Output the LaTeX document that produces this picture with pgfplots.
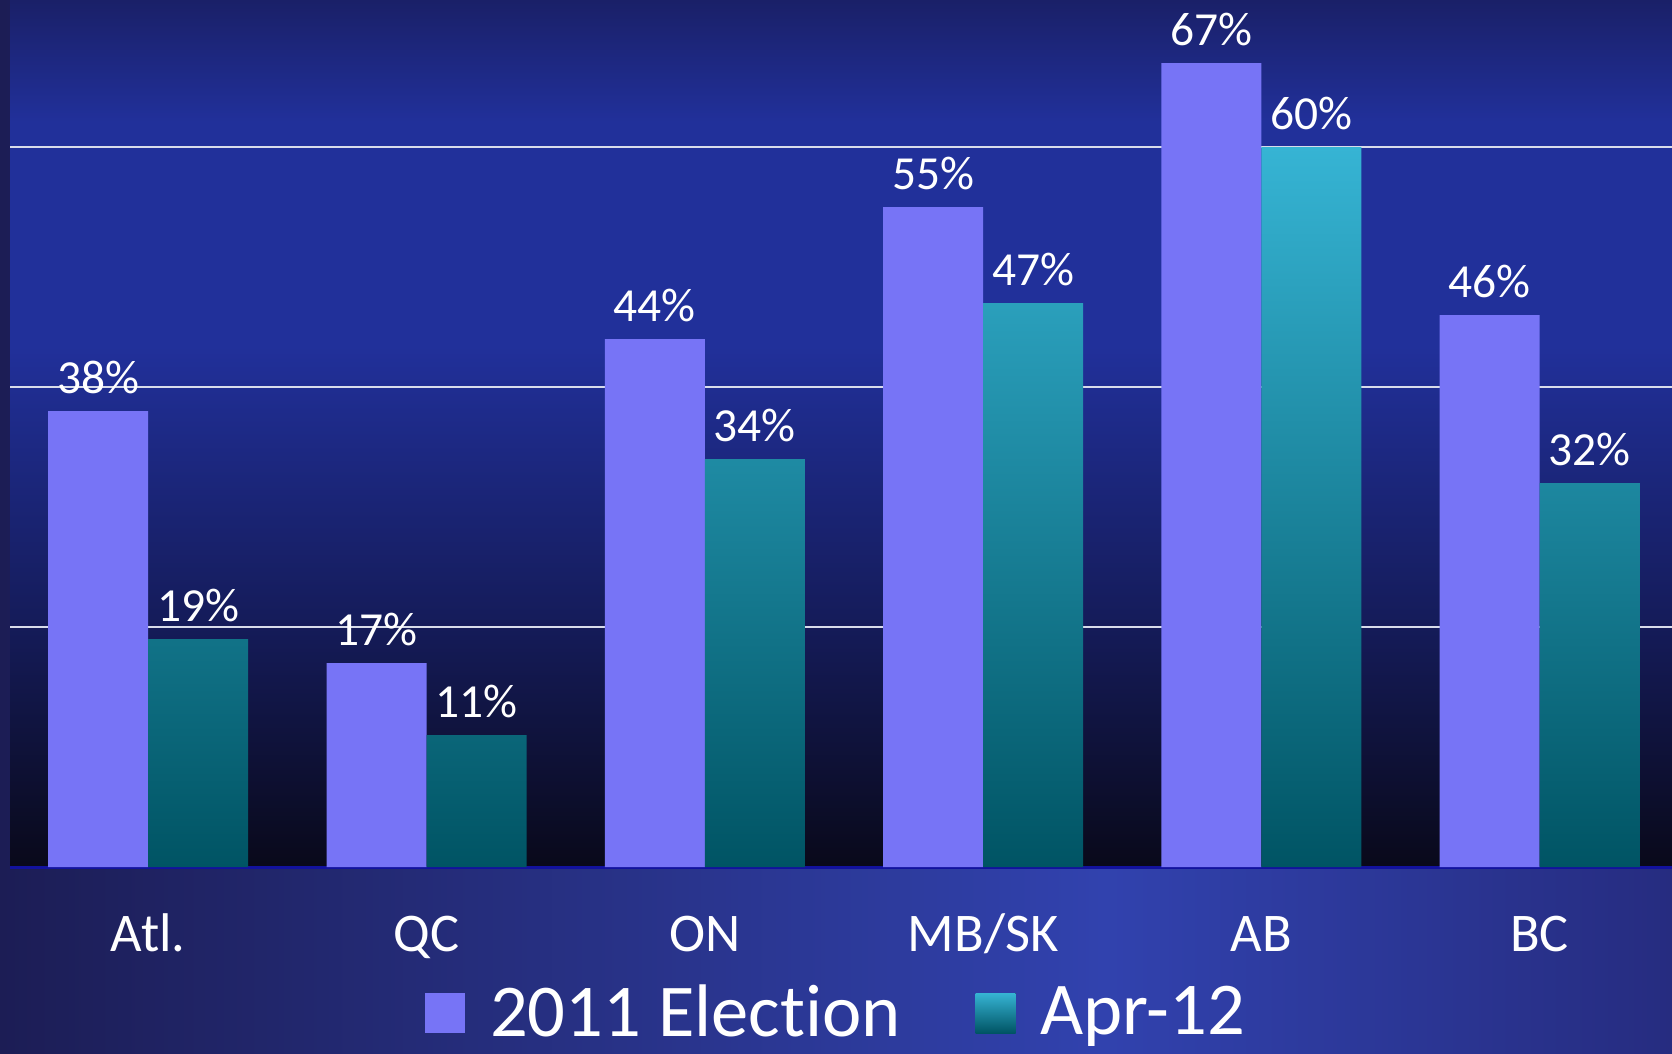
\documentclass[border=0pt]{standalone}
\usepackage{fontspec}
\setmainfont{Carlito}[Ligatures=NoCommon]
\usepackage{pgfplots}
\pgfplotsset{compat=1.18}
\usetikzlibrary{backgrounds}

\definecolor{barpurple}{HTML}{7774F6}
\definecolor{tealtop}{HTML}{36B4D4}
\definecolor{tealbot}{HTML}{005464}
\definecolor{baseblue}{HTML}{12129E}
\definecolor{gridwhite}{HTML}{D8DCEA}
\definecolor{bgtop}{HTML}{1A2068}
\definecolor{bgmid}{HTML}{21309A}
\definecolor{bglow}{HTML}{141A55}
\definecolor{bgbot}{HTML}{09091A}
\definecolor{stripL}{HTML}{1C1D55}
\definecolor{stripM}{HTML}{3142AE}
\definecolor{stripR}{HTML}{262C80}

% plot area background: dark at the base, blue in the middle
\pgfdeclareverticalshading{plotbg}{100bp}{color(0bp)=(bgbot); color(25bp)=(bgbot);
  color(38bp)=(bglow); color(55bp)=(bgmid); color(68bp)=(bgmid); color(75bp)=(bgtop); color(100bp)=(bgtop)}
\pgfdeclarehorizontalshading{stripbg}{100bp}{color(0bp)=(stripL); color(25bp)=(stripL);
  color(58bp)=(stripM); color(75bp)=(stripR); color(100bp)=(stripR)}

\begin{document}
\begin{tikzpicture}
\begin{axis}[
  name=ax,
  scale only axis,
  width=166.2mm, height=86.7mm,
  ymin=0, ymax=72.25,
  xmin=-0.4966, xmax=5.4755,
  ybar=0pt, bar width=10mm,
  axis lines*=left,
  y axis line style={draw=none},
  x axis line style={draw=baseblue, line width=0.3mm},
  ytick={20,40,60}, yticklabels={},
  ymajorgrids, grid style={gridwhite, line width=0.25mm},
  xtick={0,1,2,3,4,5},
  xticklabels={Atl., QC, ON, MB/SK, AB, BC},
  major tick length=0pt,
  xticklabel style={text=white, font=\fontsize{15.5}{18}\selectfont, anchor=base, yshift=-8.4mm},
  /pgf/number format/assume math mode=true,
  nodes near coords={\pgfmathprintnumber{\pgfplotspointmeta}\%},
  every node near coord/.append style={text=white, font=\fontsize{13.5}{16}\selectfont,
    anchor=base, yshift=1.8mm},
  legend image code/.code={\fill[#1] (0mm,-2mm) rectangle (4mm,2mm); \path (5.8mm,0mm);},
  legend columns=2,
  legend style={draw=none, fill=none, text=white,
    font=\fontsize{21.2}{26}\selectfont,
    at={(0.4985,0)}, anchor=center, yshift=-14.6mm,
    /tikz/every even column/.append style={column sep=6.8mm}},
]
\addplot[draw=none, fill=barpurple] coordinates {(0,38) (1,17) (2,44) (3,55) (4,67) (5,46)};
\addplot[draw=none, top color=tealtop, bottom color=tealbot] coordinates {(0,19) (1,11) (2,34) (3,47) (4,60) (5,32)};
\legend{2011 Election, Apr-12}
\end{axis}
\begin{scope}[on background layer]
  \shade[shading=stripbg] (-1mm,-18.6mm) rectangle (166.2mm,86.7mm);
  \shade[shading=plotbg] (0mm,0mm) rectangle (166.2mm,86.7mm);
\end{scope}
\pgfresetboundingbox
\path (-1mm,-18.6mm) rectangle (166.2mm,86.7mm);
\end{tikzpicture}
\end{document}
